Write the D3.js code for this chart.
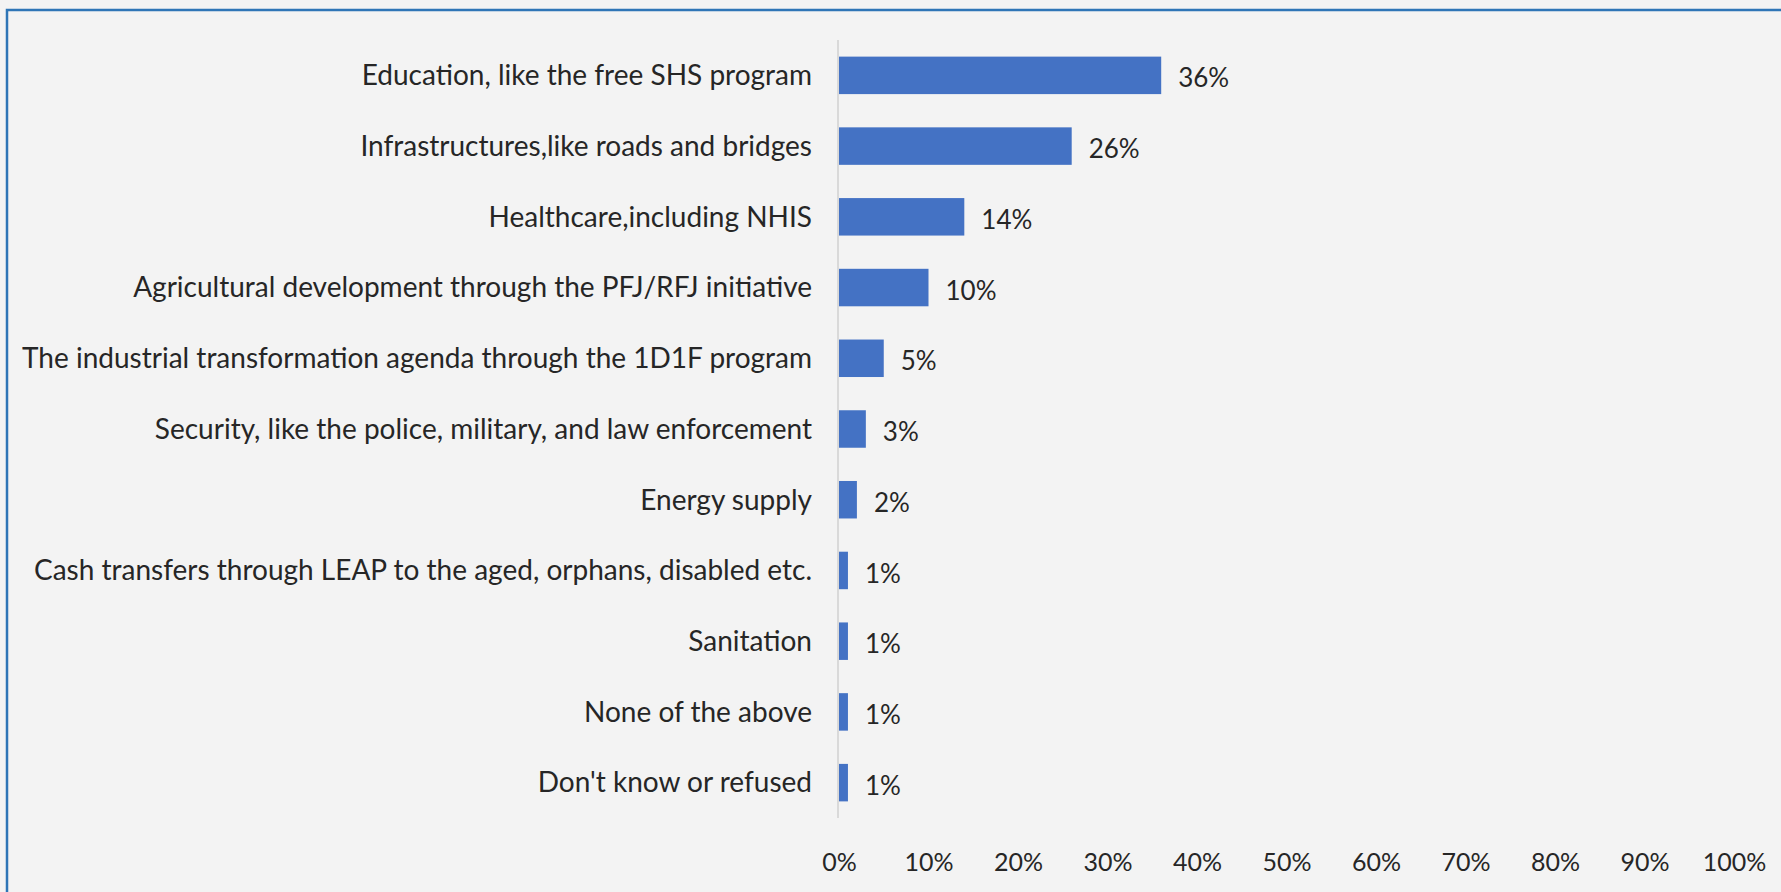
<!DOCTYPE html>
<html>
<head>
<meta charset="utf-8">
<script src="https://cdn.jsdelivr.net/npm/d3@7"></script>
<style>
  html, body { margin: 0; padding: 0; background: #f3f3f3; }
  svg { display: block; }
  text { font-family: Lato, "Open Sans", sans-serif; fill: #262626; }
</style>
</head>
<body>
<svg id="chart" width="1781" height="892"></svg>
<script>
// Survey responses: priority areas
const categories = [
  "Education, like the free SHS program",
  "Infrastructures,like roads and bridges",
  "Healthcare,including NHIS",
  "Agricultural development through the PFJ/RFJ initiative",
  "The industrial transformation agenda through the 1D1F program",
  "Security, like the police, military, and law enforcement ",
  "Energy supply",
  "Cash transfers through LEAP to the aged, orphans, disabled etc.",
  "Sanitation",
  "None of the above",
  "Don't know or refused"
];
const values = [36, 26, 14, 10, 5, 3, 2, 1, 1, 1, 1];
const tickValues = [0, 10, 20, 30, 40, 50, 60, 70, 80, 90, 100];

const W = 1781, H = 892;
const svg = d3.select("#chart");

// background and frame
svg.append("rect").attr("width", W).attr("height", H).attr("fill", "#f3f3f3");
svg.append("path")
  .attr("d", `M7,${H} L7,10 L${W},10`)
  .attr("fill", "none")
  .attr("stroke", "#2e75b6")
  .attr("stroke-width", 2.5);

const x = d3.scaleLinear().domain([0, 100]).range([839, 1734]);
const y = d3.scaleBand().domain(categories).range([40, 818]).paddingInner(0.47).paddingOuter(0.235);

// bars
svg.append("g").selectAll("rect")
  .data(values)
  .join("rect")
  .attr("x", x(0))
  .attr("y", (d, i) => y(categories[i]))
  .attr("width", d => x(d) - x(0))
  .attr("height", y.bandwidth())
  .attr("fill", "#4472c4");

// vertical category axis line
svg.append("line")
  .attr("x1", x(0) - 1).attr("x2", x(0) - 1)
  .attr("y1", 40).attr("y2", 818)
  .attr("stroke", "#d9d9d9").attr("stroke-width", 2);

// category labels
svg.append("g").selectAll("text")
  .data(categories)
  .join("text")
  .attr("x", 812)
  .attr("y", d => y(d) + y.bandwidth() / 2)
  .attr("dy", "0.35em")
  .attr("text-anchor", "end")
  .attr("font-size", 28)
  .text(d => d);

// value labels
svg.append("g").selectAll("text")
  .data(values)
  .join("text")
  .attr("x", d => x(d) + 17)
  .attr("y", (d, i) => y(categories[i]) + y.bandwidth() / 2 + 3)
  .attr("dy", "0.35em")
  .attr("font-size", 26)
  .text(d => d + "%");

// horizontal value axis (labels only)
const xAxis = d3.axisBottom(x)
  .tickValues(tickValues)
  .tickSize(0)
  .tickPadding(0)
  .tickFormat(d => d + "%");
const gx = svg.append("g").attr("transform", "translate(0,853)").call(xAxis);
gx.select(".domain").remove();
gx.selectAll("text")
  .attr("font-size", 25)
  .attr("font-family", "Lato, 'Open Sans', sans-serif")
  .attr("fill", "#262626");
</script>
</body>
</html>
